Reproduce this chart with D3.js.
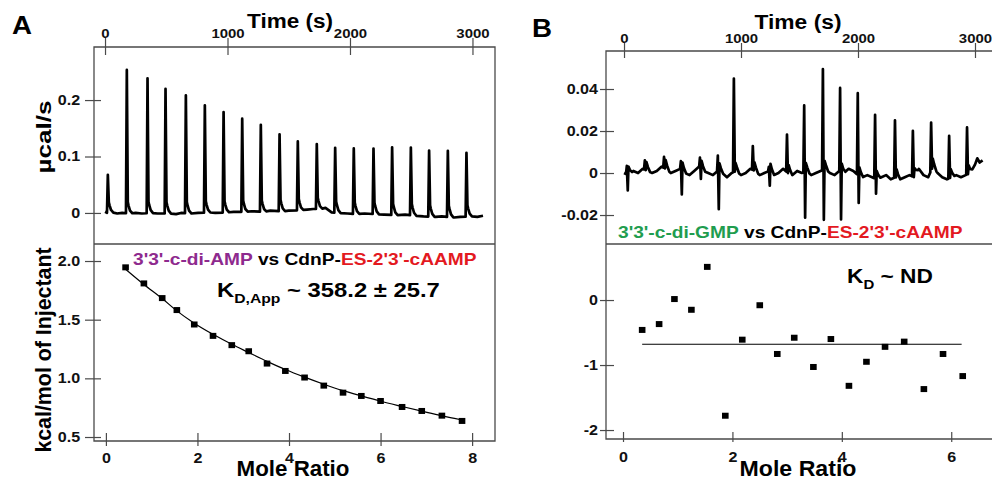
<!DOCTYPE html>
<html>
<head>
<meta charset="utf-8">
<script src="https://cdn.jsdelivr.net/npm/d3@7"></script>
<style>
body { margin: 0; background: #fff; }
text { font-family: "Liberation Sans", Arial, sans-serif; font-weight: bold; }
</style>
</head>
<body>
<div id="chart"></div>
<script>
// ---------- data ----------
// Panel A thermogram: injection times (s) and peak heights (ucal/s)
var injTimeA = [16, 171, 340, 487, 653, 808, 961, 1113, 1265, 1418, 1567, 1722, 1872, 2024, 2185, 2337, 2490, 2639, 2792, 2944];
var peakA = [0.068, 0.254, 0.239, 0.221, 0.209, 0.190, 0.178, 0.165, 0.154, 0.136, 0.122, 0.115, 0.115, 0.116, 0.116, 0.120, 0.120, 0.117, 0.117, 0.113];
// Panel A baseline readings
var baseTimeA = [0, 30, 60, 100, 140, 200, 250, 300, 380, 430, 520, 580, 620, 700, 760, 850, 900, 1000, 1050, 1150, 1200, 1300, 1350, 1450, 1500, 1600, 1650, 1700, 1760, 1800, 1850, 1900, 1980, 2060, 2120, 2200, 2280, 2380, 2450, 2540, 2600, 2700, 2750, 2850, 2900, 2990, 3040, 3086];
var baseValA = [0.002, -0.001, 0.001, -0.001, 0.000, -0.001, 0.000, -0.001, 0.000, -0.001, -0.001, -0.002, 0.000, -0.001, 0.000, 0.001, 0.000, 0.001, 0.002, 0.002, 0.003, 0.002, 0.004, 0.003, 0.004, 0.005, 0.006, 0.007, 0.007, 0.009, 0.001, 0.000, -0.001, -0.002, -0.001, -0.002, -0.003, -0.004, -0.003, -0.005, -0.006, -0.007, -0.006, -0.008, -0.007, -0.006, -0.007, -0.005];

// Panel B thermogram: injection times, positive and negative excursions
var injTimeB = [17, 171, 335, 479, 642, 795, 932, 1094, 1231, 1386, 1533, 1693, 1840, 1991, 2139, 2309, 2462, 2618, 2772, 2925];
var posB = [0.004, 0.0045, 0.0053, 0.004, 0.0048, 0.0074, 0.0445, 0.0114, 0.002, 0.018, 0.0317, 0.048, 0.0397, 0.0389, 0.0304, 0.0272, 0.0218, 0.0229, 0.0202, 0.0224];
var negB = [-0.0075, 0, 0, -0.0115, -0.005, -0.018, 0, 0, -0.0067, 0, -0.022, -0.024, -0.0227, -0.0131, -0.007, 0, 0, 0, 0, 0];
// Panel B baseline readings
var baseTimeB = [0, 40, 80, 120, 160, 200, 240, 280, 320, 360, 400, 440, 480, 520, 560, 600, 640, 680, 720, 760, 800, 840, 880, 920, 960, 1000, 1040, 1080, 1120, 1160, 1200, 1240, 1280, 1320, 1360, 1400, 1440, 1480, 1520, 1560, 1600, 1640, 1680, 1720, 1760, 1800, 1840, 1880, 1920, 1960, 2000, 2040, 2080, 2120, 2160, 2200, 2240, 2280, 2320, 2360, 2400, 2440, 2480, 2520, 2560, 2600, 2640, 2680, 2720, 2760, 2800, 2840, 2880, 2920, 2960, 3000, 3020, 3040, 3065];
var baseValB = [0.000, -0.001, 0.001, 0.000, 0.002, 0.001, 0.000, 0.001, 0.003, 0.002, 0.000, 0.001, 0.002, 0.000, -0.001, 0.001, 0.003, 0.001, 0.000, -0.001, 0.001, 0.000, -0.002, 0.000, 0.001, -0.001, 0.000, 0.002, 0.001, -0.001, 0.000, 0.001, -0.001, 0.000, 0.002, 0.000, -0.001, 0.001, 0.000, 0.001, -0.001, 0.000, 0.001, 0.002, 0.000, -0.001, 0.001, 0.000, 0.002, 0.001, -0.001, -0.002, -0.001, -0.002, -0.003, -0.002, -0.001, -0.003, -0.002, -0.003, -0.002, -0.001, -0.002, 0.002, -0.001, -0.002, 0.003, 0.000, -0.002, -0.003, -0.002, -0.001, -0.002, -0.001, 0.000, 0.004, 0.007, 0.005, 0.006];

// spike time offsets after each injection (s)
var spikeOffset = [0, 7, 15, 21, 33, 52];

// Panel A isotherm
var moleRatioA = [0.43, 0.83, 1.23, 1.55, 1.93, 2.34, 2.75, 3.12, 3.52, 3.92, 4.34, 4.76, 5.18, 5.58, 6.00, 6.47, 6.90, 7.34, 7.78];
var heatA = [1.946, 1.809, 1.684, 1.582, 1.459, 1.362, 1.283, 1.231, 1.126, 1.063, 1.007, 0.938, 0.878, 0.850, 0.807, 0.756, 0.722, 0.682, 0.637];
var fitA = [1.93, 1.80, 1.68, 1.575, 1.47, 1.375, 1.29, 1.22, 1.145, 1.075, 1.01, 0.95, 0.895, 0.85, 0.805, 0.76, 0.72, 0.68, 0.645];

// Panel B isotherm
var moleRatioB = [0.35, 0.66, 0.94, 1.25, 1.54, 1.87, 2.18, 2.50, 2.82, 3.13, 3.48, 3.80, 4.13, 4.45, 4.79, 5.14, 5.50, 5.85, 6.21];
var heatB = [-0.46, -0.37, 0.015, -0.15, 0.51, -1.78, -0.61, -0.08, -0.83, -0.58, -1.03, -0.60, -1.32, -0.95, -0.72, -0.64, -1.37, -0.83, -1.17];
var fitMoleRatioB = [0.35, 6.19];
var fitB = [-0.68, -0.68];

// ticks
var timeTicks = [0, 1000, 2000, 3000];
var rateTicksA = [0, 0.1, 0.2];
var heatTicksA = [0.5, 1.0, 1.5, 2.0];
var mrTicksA = [0, 2, 4, 6, 8];
var rateTicksB = [-0.02, 0, 0.02, 0.04];
var heatTicksB = [-2, -1, 0];
var mrTicksB = [0, 2, 4, 6];

var purple = '#8e2a8e', red = '#e3191f', green = '#1f9d4f', frameColor = '#4a4a4a';

// ---------- drawing ----------
var svg = d3.select('#chart').append('svg')
    .attr('width', 992)
    .attr('height', 479);

// text helper: parts = [[string, colour, 'sub'|'up']], stretched to width
function addText(parent, x, y, anchor, size, parts, width, angle) {
    var g = parent.append('g')
        .attr('transform', 'translate(' + x + ',' + y + ')' + (angle ? ' rotate(' + angle + ')' : ''));
    var t = g.append('text').attr('text-anchor', anchor).attr('font-size', size);
    parts.forEach(function (p) {
        var s = t.append('tspan').text(p[0]).attr('fill', p[1] || '#000');
        if (p[2] === 'sub') s.attr('font-size', size * 0.66).attr('dy', size * 0.3);
        if (p[2] === 'up') s.attr('dy', -size * 0.3);
    });
    if (width) {
        var w = t.node().getBBox().width;
        t.attr('transform', 'scale(' + (width / w) + ',1)');
    }
    return t;
}

// hyphen minus like the original figure
function fmt(spec) {
    var f = d3.format(spec);
    return function (d) { return d === 0 ? '0' : f(d).replace('\u2212', '-'); };
}

// build a thermogram polyline from baseline readings and injection spikes
function buildTrace(baseT, baseV, injT, shape) {
    var baseAt = d3.scaleLinear().domain(baseT).range(baseV);
    var span = spikeOffset[spikeOffset.length - 1];
    var pts = [];
    baseT.forEach(function (t, i) {
        var inside = injT.some(function (s) { return t >= s && t <= s + span; });
        if (!inside) pts.push([t, baseV[i]]);
    });
    injT.forEach(function (s, i) {
        var vals = shape(i);
        spikeOffset.forEach(function (o, k) {
            pts.push([s + o, baseAt(s + o) + vals[k]]);
        });
    });
    pts.sort(function (a, b) { return a[0] - b[0]; });
    return pts;
}

function styleAxis(g, size) {
    g.select('.domain').remove();
    g.selectAll('.tick line').attr('stroke', frameColor).attr('stroke-width', 1.2);
    g.selectAll('.tick text')
        .attr('font-size', size)
        .attr('font-weight', 'bold')
        .attr('fill', '#111')
        .attr('font-family', '"Liberation Sans", Arial, sans-serif')
        .attr('transform', 'scale(1.15,1)');
}

function drawPanel(p) {
    var g = svg.append('g');

    // frame and divider
    var x0 = p.xTime.range()[0], x1 = p.xTime.range()[1];
    var yTop = p.yRate.range()[1], yMid = p.yRate.range()[0], yBot = p.yHeat.range()[0];
    g.append('path')
        .attr('d', 'M' + x1 + ',' + yTop + 'H' + x0 + 'V' + yBot + 'H' + x1 + (p.closeRight ? 'Z' : ''))
        .attr('fill', 'none')
        .attr('stroke', frameColor)
        .attr('stroke-width', 1.3);
    g.append('line')
        .attr('x1', x0).attr('x2', x1).attr('y1', yMid).attr('y2', yMid)
        .attr('stroke', frameColor).attr('stroke-width', 1.3);

    // top time axis
    var ax = g.append('g').attr('transform', 'translate(0,' + yTop + ')')
        .call(d3.axisTop(p.xTime).tickValues(timeTicks).tickFormat(d3.format('d')).tickSize(p.topTick[0]).tickPadding(0));
    ax.selectAll('.tick line').attr('y1', p.topTick[1]);
    styleAxis(ax, 13);

    // left rate axis
    var ay = g.append('g').attr('transform', 'translate(' + x0 + ',0)')
        .call(d3.axisLeft(p.yRate).tickValues(p.rateTicks).tickFormat(p.rateFormat).tickSize(p.leftTick[0]).tickPadding(p.leftTick[2]));
    ay.selectAll('.tick line').attr('x1', p.leftTick[1]);
    styleAxis(ay, 14);

    // left heat axis
    var ah = g.append('g').attr('transform', 'translate(' + x0 + ',0)')
        .call(d3.axisLeft(p.yHeat).tickValues(p.heatTicks).tickFormat(p.heatFormat).tickSize(p.leftTick[0]).tickPadding(p.leftTick[2]));
    ah.selectAll('.tick line').attr('x1', p.leftTick[1]);
    styleAxis(ah, 14);

    // bottom mole ratio axis
    var ab = g.append('g').attr('transform', 'translate(0,' + yBot + ')')
        .call(d3.axisBottom(p.xMR).tickValues(p.mrTicks).tickFormat(d3.format('d')).tickSize(p.botTick[0]).tickPadding(p.botTick[2]));
    ab.selectAll('.tick line').attr('y1', p.botTick[1]);
    styleAxis(ab, 14);

    // thermogram
    var line = d3.line()
        .x(function (d) { return p.xTime(d[0]); })
        .y(function (d) { return p.yRate(d[1]); });
    g.append('path')
        .datum(p.trace)
        .attr('d', line)
        .attr('fill', 'none')
        .attr('stroke', '#000')
        .attr('stroke-width', 2.7)
        .attr('stroke-linejoin', 'round');

    // fit line
    var fitLine = d3.line()
        .x(function (d) { return p.xMR(d[0]); })
        .y(function (d) { return p.yHeat(d[1]); })
        .curve(d3.curveMonotoneX);
    g.append('path')
        .datum(d3.zip(p.fitX, p.fitY))
        .attr('d', fitLine)
        .attr('fill', 'none')
        .attr('stroke', '#000')
        .attr('stroke-width', 1.2);

    // integrated heats
    g.selectAll('.pt')
        .data(d3.zip(p.mr, p.heat))
        .enter()
        .append('rect')
        .attr('class', 'pt')
        .attr('x', function (d) { return p.xMR(d[0]) - 3.3; })
        .attr('y', function (d) { return p.yHeat(d[1]) - 3; })
        .attr('width', 6.6)
        .attr('height', 6)
        .attr('fill', '#000');
}

// Panel A
drawPanel({
    xTime: d3.scaleLinear().domain([-90, 3184]).range([94, 495]),
    yRate: d3.scaleLinear().domain([-0.055, 0.294]).range([244, 47]),
    xMR: d3.scaleLinear().domain([-0.26, 8.5]).range([94, 495]),
    yHeat: d3.scaleLinear().domain([0.466, 2.145]).range([441, 244]),
    closeRight: true,
    topTick: [9, 8], leftTick: [9, 7, 3], botTick: [5, -8, 7],
    rateTicks: rateTicksA, rateFormat: fmt('.1f'),
    heatTicks: heatTicksA, heatFormat: d3.format('.1f'),
    mrTicks: mrTicksA,
    trace: buildTrace(baseTimeA, baseValA, injTimeA, function (i) {
        return [0, peakA[i], 0.02, 0.014, 0.005, 0];
    }),
    mr: moleRatioA, heat: heatA, fitX: moleRatioA, fitY: fitA
});

// Panel B
drawPanel({
    xTime: d3.scaleLinear().domain([-154, 3171]).range([606, 995]),
    yRate: d3.scaleLinear().domain([-0.0338, 0.0581]).range([244, 51]),
    xMR: d3.scaleLinear().domain([-0.311, 6.80]).range([606, 995]),
    yHeat: d3.scaleLinear().domain([-2.138, 0.862]).range([439, 244]),
    closeRight: false,
    topTick: [8, 7], leftTick: [6, 8, 1], botTick: [3, -7, 10],
    rateTicks: rateTicksB, rateFormat: fmt('.2f'),
    heatTicks: heatTicksB, heatFormat: fmt('d'),
    mrTicks: mrTicksB,
    trace: buildTrace(baseTimeB, baseValB, injTimeB, function (i) {
        return [0, posB[i], negB[i], 0.004, 0.002, 0];
    }),
    mr: moleRatioB, heat: heatB, fitX: fitMoleRatioB, fitY: fitB
});

// labels
addText(svg, 12, 34, 'start', 25, [['A']], 20);
addText(svg, 532, 37, 'start', 25, [['B']], 20);
addText(svg, 290, 28, 'middle', 21, [['Time (s)']], 86);
addText(svg, 798, 29, 'middle', 21, [['Time (s)']], 87);
addText(svg, 293, 476, 'middle', 22, [['Mole Ratio']], 113);
addText(svg, 798, 476, 'middle', 22, [['Mole Ratio']], 117);
addText(svg, 51, 137, 'middle', 21, [['µcal/s']], 73, -90);
addText(svg, 51, 350, 'middle', 22, [['kcal/mol of Injectant']], 206, -90);

addText(svg, 133, 265, 'start', 16, [["3'3'-c-di-AMP", purple], [' vs CdnP-'], ["ES-2'3'-cAAMP", red]], 344);
addText(svg, 618, 238, 'start', 16, [["3'3'-c-di-GMP", green], [' vs CdnP-'], ["ES-2'3'-cAAMP", red]], 345);
addText(svg, 217, 297, 'start', 20, [['K'], ['D,App', null, 'sub'], [' ~ 358.2 ± 25.7', null, 'up']], 223);
addText(svg, 847, 283, 'start', 20, [['K'], ['D', null, 'sub'], [' ~ ND', null, 'up']], 86);
</script>
</body>
</html>
